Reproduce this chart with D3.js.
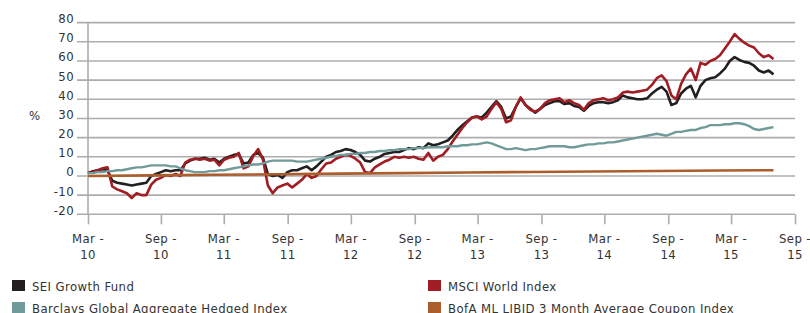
<!DOCTYPE html>
<html>
<head>
<meta charset="utf-8">
<script src="https://cdn.jsdelivr.net/npm/d3@7"></script>
<style>
    body { margin: 0; background: #fff; }
    svg { display: block; }
    text { font-family: "DejaVu Sans Condensed", "Liberation Sans", sans-serif; fill: #333; letter-spacing: 0.4px; }
</style>
</head>
<body>
<div id="chart"></div>
<script>
// fortnightly readings, first point 3 Feb 2010
const startDate = new Date(2010, 1, 3)
const stepDays = 14

const seiGrowth = [
    1.5, 2.5, 3, 3.5, 3, -2.5, -3.5, -4, -4.5, -5,
    -4.5, -4, -3.5, 0, 1, 2, 3, 2.5, 3, 3,
    6.5, 8, 9, 9, 9.5, 8.5, 9, 7, 9, 10,
    11, 11.5, 6.5, 7, 11, 12, 9.5, 1, 0, 0.5,
    -1, 2, 3, 3, 4, 5, 3, 5, 7.5, 10,
    11, 12.5, 13, 14, 13.5, 12.5, 11, 8, 7.5, 9,
    10, 11.5, 12, 12.5, 12.5, 13.5, 14.5, 14, 15, 14.5,
    17, 16, 16.5, 17.5, 18.5, 21, 24, 26.5, 28.5, 30.5,
    31, 30.5, 33, 36, 39, 36, 30, 31, 36, 40.5,
    37, 35, 33, 35, 37, 38, 39, 39, 37.5, 38,
    36.5, 36, 34, 36.5, 38, 38.5, 38.5, 38, 38.5, 39.5,
    42, 41, 40.5, 40, 40, 40.5, 43, 45, 46.5, 44,
    37, 38, 43, 45.5, 47, 41, 47, 50, 51, 51.5,
    53.5, 56, 60, 62, 60.5, 59.5, 59, 57.5, 55, 54,
    55, 53
]

const msciWorld = [
    1.5, 2, 3, 4, 4.5, -5.5, -7, -8, -9, -11.5,
    -9, -10, -10, -4.5, -2, -1, 0.5, 0, 1, 0,
    7, 8.5, 9, 8.5, 9, 8, 8.5, 5.5, 8.5, 9.5,
    10, 12, 4, 5, 10.5, 14, 8.5, -5, -9, -6,
    -5, -4, -6, -4, -2, 1, -1, 0, 3.5, 6.5,
    7, 9, 10, 11, 10.5, 9, 7, 2, 1.5, 4.5,
    6, 7.5, 8.5, 10, 9.5, 10, 9.5, 10, 9, 8.5,
    12, 8, 10, 11, 14, 18, 21.5, 25, 28, 30.5,
    31, 29.5, 31, 35, 38.5, 35, 28, 29, 36, 41,
    37, 34.5, 33.5, 35, 38, 39.5, 40, 40.5, 38.5, 39.5,
    38, 37, 34.5, 38, 39.5, 40, 40.5, 39.5, 40, 41,
    43.5, 44, 43.5, 44, 44.5, 45, 47.5, 51, 52.5, 49.5,
    42, 40, 48, 53, 56, 50, 59, 58, 60, 61,
    63, 66.5, 70, 74, 71.5, 69.5, 68, 67, 64, 62,
    63, 61
]

const barclaysAgg = [
    1.5, 1.5, 2, 2, 2.5, 2.5, 3, 3, 3.5, 4,
    4.5, 4.5, 5, 5.5, 5.5, 5.5, 5.5, 5, 5, 4,
    3, 2.5, 2, 2, 2, 2.5, 2.5, 3, 3, 3.5,
    4, 4.5, 5, 5.5, 6, 6, 6.5, 7.5, 8, 8,
    8, 8, 8, 7.5, 7.5, 7.5, 8, 8.5, 9, 9.5,
    10, 10.5, 11, 11, 11.5, 11.5, 12, 12, 12.5, 12.5,
    13, 13, 13.5, 13.5, 14, 14, 14, 14.5, 14.5, 14.5,
    15, 15, 15, 15, 15.5, 15.5, 15.5, 16, 16, 16.5,
    16.5, 17, 17.5, 17, 16, 15, 14, 14, 14.5, 14,
    13.5, 14, 14, 14.5, 15, 15.5, 15.5, 15.5, 15.5, 15,
    15, 15.5, 16, 16.5, 16.5, 17, 17, 17.5, 17.5, 18,
    18.5, 19, 19.5, 20, 20.5, 21, 21.5, 22, 21.5, 21,
    22, 23, 23, 23.5, 24, 24, 25, 25.5, 26.5, 26.5,
    26.5, 27, 27, 27.5, 27.5, 27, 26, 24.5, 24, 24.5,
    25, 25.5
]

// [fortnight index, value]
const bofaLibid = [
    [0, 0], [13, 0.3], [26, 0.6], [39, 0.9], [52, 1.2], [65, 1.5],
    [78, 1.8], [91, 2.1], [104, 2.35], [117, 2.6], [130, 2.85], [141, 3]
]

const seriesNames = ['SEI Growth Fund', 'MSCI World Index', 'Barclays Global Aggregate Hedged Index', 'BofA ML LIBID 3 Month Average Coupon Index']
const seriesColors = ['#231f20', '#a11d24', '#719a9a', '#ac5d2c']

const yTicks = [-20, -10, 0, 10, 20, 30, 40, 50, 60, 70, 80]
const xTickDates = [startDate, new Date(2010, 8, 1), new Date(2011, 2, 1), new Date(2011, 8, 1),
    new Date(2012, 2, 1), new Date(2012, 8, 1), new Date(2013, 2, 1), new Date(2013, 8, 1),
    new Date(2014, 2, 1), new Date(2014, 8, 1), new Date(2015, 2, 1), new Date(2015, 8, 1)]
const xTickMonths = ['Mar', 'Sep', 'Mar', 'Sep', 'Mar', 'Sep', 'Mar', 'Sep', 'Mar', 'Sep', 'Mar', 'Sep']
const xTickYears = ['10', '10', '11', '11', '12', '12', '13', '13', '14', '14', '15', '15']

const width = 810
const height = 313
const gridColor = '#adadad'

const svg = d3.select('#chart').append('svg')
    .attr('width', width)
    .attr('height', height)

const xScale = d3.scaleTime()
    .domain([startDate, new Date(2015, 8, 1)])
    .range([88, 795])

const yScale = d3.scaleLinear()
    .domain([-20, 80])
    .range([214.3, 22.6])

const toPoints = (vals) => vals.map((v, i) => ({date: d3.timeDay.offset(startDate, i * stepDays), value: v}))
const seriesData = [
    toPoints(seiGrowth),
    toPoints(msciWorld),
    toPoints(barclaysAgg),
    bofaLibid.map(d => ({date: d3.timeDay.offset(startDate, d[0] * stepDays), value: d[1]}))
]

// horizontal gridlines
svg.append('g')
    .selectAll('line')
    .data(yTicks)
    .enter()
    .append('line')
    .attr('x1', 77)
    .attr('x2', 795)
    .attr('y1', d => yScale(d))
    .attr('y2', d => yScale(d))
    .attr('stroke', gridColor)
    .attr('stroke-width', 1.6)

// y labels
svg.append('g')
    .selectAll('text')
    .data(yTicks)
    .enter()
    .append('text')
    .text(d => d)
    .attr('x', 74)
    .attr('y', d => yScale(d) + 0.5)
    .attr('text-anchor', 'end')
    .style('font-size', '13px')

svg.append('text')
    .text('%')
    .attr('x', 29)
    .attr('y', 120)
    .style('font-size', '13px')

// x axis
const xAxis = d3.axisBottom(xScale)
    .tickValues(xTickDates)
    .tickSize(10)
    .tickFormat('')

const xAxisG = svg.append('g')
    .attr('transform', `translate(0, ${yScale(-20)})`)
    .call(xAxis)
xAxisG.select('.domain').remove()
xAxisG.selectAll('.tick line')
    .attr('stroke', gridColor)
    .attr('stroke-width', 1.6)

svg.append('line')
    .attr('x1', 88).attr('x2', 88)
    .attr('y1', yScale(80)).attr('y2', yScale(-20))
    .attr('stroke', gridColor)
    .attr('stroke-width', 1.6)

const xLabels = svg.append('g')
    .selectAll('text')
    .data(xTickDates)
    .enter()
    .append('text')
    .attr('text-anchor', 'middle')
    .style('font-size', '13px')
xLabels.append('tspan')
    .text((d, i) => xTickMonths[i] + ' -')
    .attr('x', d => xScale(d))
    .attr('y', 243)
xLabels.append('tspan')
    .text((d, i) => xTickYears[i])
    .attr('x', d => xScale(d))
    .attr('y', 259)

// series lines
const line = d3.line()
    .x(d => xScale(d.date))
    .y(d => yScale(d.value))

const widths = [2.6, 2.6, 2.4, 2.6]
svg.append('g')
    .selectAll('path')
    .data(seriesData)
    .enter()
    .append('path')
    .attr('d', line)
    .attr('fill', 'none')
    .attr('stroke', (d, i) => seriesColors[i])
    .attr('stroke-width', (d, i) => widths[i])
    .attr('stroke-linejoin', 'round')

// legend
const legendPos = [[12, 280], [428, 280], [12, 302], [428, 302]]
const legend = svg.append('g')
    .selectAll('g')
    .data(seriesNames)
    .enter()
    .append('g')
    .attr('transform', (d, i) => `translate(${legendPos[i][0]}, ${legendPos[i][1]})`)
legend.append('rect')
    .attr('width', 13)
    .attr('height', 11)
    .attr('fill', (d, i) => seriesColors[i])
legend.append('text')
    .text(d => d)
    .attr('x', 20)
    .attr('y', 10.5)
    .style('font-size', '13px')
</script>
</body>
</html>
